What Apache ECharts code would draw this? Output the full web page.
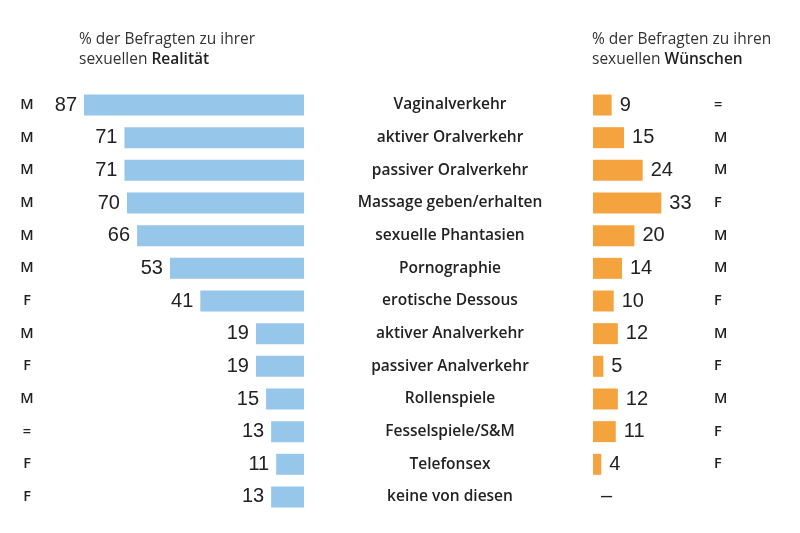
<!DOCTYPE html>
<html><head><meta charset="utf-8">
<script src="https://cdn.jsdelivr.net/npm/echarts@6/dist/echarts.min.js"></script>
<style>html,body{margin:0;padding:0;background:#fff}#c{width:800px;height:533px}</style>
</head><body><div id="c"></div>
<script>
const categories = ['Vaginalverkehr','aktiver Oralverkehr','passiver Oralverkehr','Massage geben/erhalten','sexuelle Phantasien','Pornographie','erotische Dessous','aktiver Analverkehr','passiver Analverkehr','Rollenspiele','Fesselspiele/S&M','Telefonsex','keine von diesen'];
const realityValues = [87,71,71,70,66,53,41,19,19,15,13,11,13];
const wishValues = [9,15,24,33,20,14,10,12,5,12,11,4,0];
const realityGender = ['M','M','M','M','M','M','F','M','F','M','=','F','F'];
const wishGender = ['=','M','M','F','M','M','F','M','F','M','F','F',''];

const chart = echarts.init(document.getElementById('c'));
const numFont = {fontFamily:'Liberation Sans', fontSize:20, color:'#222'};
const gridTop = 88.7, gridBottom = 19.7;
const pxPerUnit = 2.529;
const titleStyle = {fontFamily:'Open Sans', fontSize:15.5, fontWeight:'normal', color:'#333', lineHeight:20,
  rich:{b:{fontFamily:'Open Sans', fontSize:15.5, fontWeight:600, color:'#222', lineHeight:20}}};
chart.setOption({
  animation:false,
  backgroundColor:'#fff',
  title:[
    {left:79, top:30, padding:0, text:'% der Befragten zu ihrer\nsexuellen {b|Realität}', textStyle:titleStyle},
    {left:592, top:30, padding:0, text:'% der Befragten zu ihren\nsexuellen {b|Wünschen}', textStyle:titleStyle}
  ],
  grid:[
    {left:84, right:496, top:gridTop, bottom:gridBottom},
    {left:593, right:800-593-100*pxPerUnit, top:gridTop, bottom:gridBottom}
  ],
  xAxis:[
    {gridIndex:0, type:'value', min:0, max:87, inverse:true, show:false},
    {gridIndex:1, type:'value', min:0, max:100, show:false}
  ],
  yAxis:[
    {gridIndex:0, type:'category', data:categories, inverse:true, position:'right',
     axisLine:{show:false}, axisTick:{show:false}, splitLine:{show:false},
     axisLabel:{align:'center', margin:146, fontFamily:'Open Sans', fontSize:15.5, fontWeight:600, color:'#222'}},
    {gridIndex:0, type:'category', data:categories, inverse:true, position:'left',
     axisLine:{show:false}, axisTick:{show:false}, splitLine:{show:false},
     axisLabel:{align:'center', margin:57, fontFamily:'Open Sans', fontSize:14.5, fontWeight:600, color:'#222',
       formatter:(v,i)=>realityGender[i]}},
    {gridIndex:1, type:'category', data:categories, inverse:true, position:'right',
     axisLine:{show:false}, axisTick:{show:false}, splitLine:{show:false},
     axisLabel:{align:'left', margin:760-(593+100*pxPerUnit), fontFamily:'Open Sans', fontSize:14.5, fontWeight:600, color:'#222',
       formatter:(v,i)=>wishGender[i]}}
  ],
  series:[
    {type:'bar', xAxisIndex:0, yAxisIndex:0, data:realityValues, barWidth:21,
     itemStyle:{color:'#96C6EA'},
     label:{show:true, position:'left', distance:7, ...numFont}},
    {type:'bar', xAxisIndex:1, yAxisIndex:2, data:wishValues, barWidth:21,
     itemStyle:{color:'#F4A33F'},
     label:{show:true, position:'right', distance:8, ...numFont, formatter:p=>p.value===0?'–':String(p.value)}}
  ]
});
</script></body></html>
